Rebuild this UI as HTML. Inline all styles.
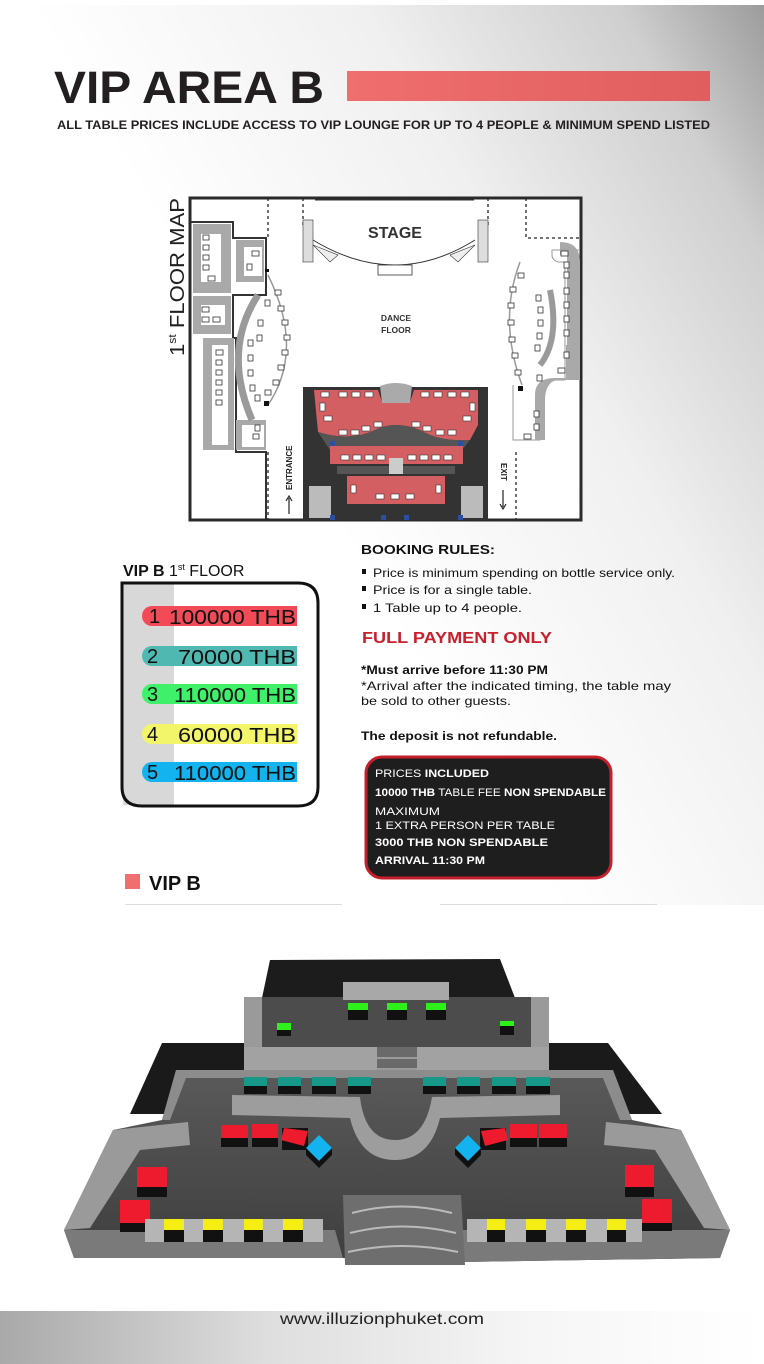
<!DOCTYPE html>
<html><head><meta charset="utf-8">
<style>
html,body{margin:0;padding:0;background:#fff;}
svg{display:block;}
text{font-family:"Liberation Sans",sans-serif;}
</style></head>
<body>
<svg width="764" height="1364" viewBox="0 0 764 1364" xmlns="http://www.w3.org/2000/svg">
<defs>
<linearGradient id="bg" x1="0.35" y1="0.45" x2="1" y2="0">
<stop offset="0" stop-color="#ffffff"/><stop offset="0.45" stop-color="#f0f0f0"/><stop offset="0.8" stop-color="#cfcfcf"/><stop offset="1" stop-color="#9c9c9c"/>
</linearGradient>
<linearGradient id="bar" x1="0" x2="1"><stop offset="0" stop-color="#ef6e6e"/><stop offset="1" stop-color="#e05e5e"/></linearGradient>
<linearGradient id="foot" x1="0" x2="1"><stop offset="0" stop-color="#a9a9a9"/><stop offset="0.35" stop-color="#dedede"/><stop offset="0.7" stop-color="#f6f6f6"/><stop offset="1" stop-color="#ffffff"/></linearGradient>
<linearGradient id="fl" x1="0" y1="0" x2="0" y2="1"><stop offset="0" stop-color="#5a5a5a"/><stop offset="1" stop-color="#3e3e3e"/></linearGradient>
</defs>

<!-- background -->
<rect x="0" y="5" width="764" height="900" fill="url(#bg)"/>
<rect x="0" y="0" width="764" height="5" fill="#fff"/>

<!-- header -->
<text x="54" y="103" font-size="45" font-weight="bold" fill="#231f20" textLength="270" lengthAdjust="spacingAndGlyphs">VIP AREA B</text>
<rect x="347" y="71" width="363" height="30" fill="url(#bar)"/>
<text x="57" y="129" font-size="11.5" font-weight="bold" fill="#231f20" textLength="653" lengthAdjust="spacingAndGlyphs">ALL TABLE PRICES INCLUDE ACCESS TO VIP LOUNGE FOR UP TO 4 PEOPLE &amp; MINIMUM SPEND LISTED</text>

<!-- floor map -->
<text transform="translate(184,356) rotate(-90)" font-size="20" fill="#231f20" textLength="158" lengthAdjust="spacingAndGlyphs">1<tspan font-size="11" dy="-8">st</tspan><tspan dy="8"> FLOOR MAP</tspan></text>
<rect x="190" y="198" width="391" height="322" fill="#fff" stroke="#2a2a2a" stroke-width="3"/>
<!-- right gray wall top -->
<rect x="580" y="198" width="2" height="322" fill="#2a2a2a"/>
<!-- left stepped wall -->
<path d="M191,222 L233,222 L233,238 L266,238 L266,295 L233,295 L233,338 L236,338 L236,452 L266,452 L266,519" fill="none" stroke="#333" stroke-width="2"/>
<path d="M193,224 L231,224 L231,293 L193,293 Z" fill="#a9a9a9"/>
<path d="M201,234 L221,234 L221,282 L201,282 Z" fill="#fff"/>
<path d="M193,296 L231,296 L231,334 L193,334 Z" fill="#a9a9a9"/>
<path d="M201,305 L225,305 L225,325 L201,325 Z" fill="#fff"/>
<path d="M203,338 L234,338 L234,450 L203,450 Z" fill="#a9a9a9"/>
<path d="M212,345 L228,345 L228,445 L212,445 Z" fill="#fff"/>
<path d="M236,240 L264,240 L264,282 L236,282 Z" fill="#a9a9a9"/>
<path d="M244,247 L262,247 L262,276 L244,276 Z" fill="#fff"/>
<path d="M236,420 L266,420 L266,450 L236,450 Z" fill="#a9a9a9"/>
<path d="M242,425 L264,425 L264,447 L242,447 Z" fill="#fff"/>
<!-- left arc -->
<path d="M258,295 Q222,350 252,420" fill="none" stroke="#9a9a9a" stroke-width="7"/>
<path d="M268,275 Q305,350 268,405" fill="none" stroke="#999" stroke-width="1.5"/>
<g fill="#fff" stroke="#333" stroke-width="0.8">
<rect x="203" y="235" width="6" height="5"/><rect x="203" y="245" width="6" height="5"/><rect x="203" y="255" width="6" height="5"/><rect x="203" y="265" width="6" height="5"/><rect x="208" y="276" width="7" height="5"/>
<rect x="202" y="307" width="7" height="5"/><rect x="202" y="317" width="7" height="5"/><rect x="213" y="317" width="7" height="5"/>
<rect x="216" y="350" width="7" height="5"/><rect x="216" y="360" width="6" height="5"/><rect x="216" y="370" width="6" height="5"/><rect x="216" y="380" width="6" height="5"/><rect x="216" y="390" width="6" height="5"/><rect x="216" y="400" width="6" height="5"/>
<rect x="252" y="251" width="7" height="5"/><rect x="247" y="264" width="5" height="6"/>
<rect x="255" y="425" width="5" height="6"/><rect x="253" y="434" width="6" height="5"/>
<rect x="258" y="320" width="5" height="6"/><rect x="257" y="335" width="5" height="6"/><rect x="248" y="340" width="5" height="6"/><rect x="248" y="355" width="5" height="6"/><rect x="248" y="370" width="5" height="6"/><rect x="250" y="385" width="5" height="6"/><rect x="255" y="395" width="5" height="6"/><rect x="265" y="300" width="5" height="6"/><rect x="275" y="290" width="6" height="5"/><rect x="278" y="306" width="6" height="5"/><rect x="282" y="320" width="6" height="5"/><rect x="284" y="335" width="6" height="5"/><rect x="282" y="350" width="6" height="5"/><rect x="278" y="365" width="6" height="5"/><rect x="273" y="380" width="6" height="5"/><rect x="265" y="390" width="6" height="5"/>
</g>
<!-- right side -->
<path d="M580,250 L552,250 L552,255 Q552,260 558,262 L565,262 L565,380 L555,380 Q540,385 540,400 L540,440 L513,440 L513,385" fill="none" stroke="#999" stroke-width="1"/>
<path d="M560,242 Q580,242 580,262 L580,345 L567,345 L567,255 L560,255 Z" fill="#a9a9a9"/>
<path d="M566,345 L580,345 L580,380 L555,380 Q545,385 545,400 L545,440 L535,440 L535,395 Q535,378 555,378 L566,378 Z" fill="#a9a9a9"/>
<path d="M550,290 Q560,340 540,365" fill="none" stroke="#9a9a9a" stroke-width="6"/>
<path d="M520,262 Q498,320 522,385" fill="none" stroke="#999" stroke-width="1.5"/>
<g fill="#fff" stroke="#333" stroke-width="0.8">
<rect x="561" y="251" width="7" height="5"/><rect x="564" y="262" width="5" height="6"/><rect x="564" y="272" width="5" height="6"/><rect x="564" y="288" width="5" height="6"/><rect x="564" y="302" width="5" height="6"/><rect x="564" y="316" width="5" height="6"/><rect x="564" y="330" width="5" height="6"/><rect x="564" y="352" width="5" height="6"/><rect x="558" y="368" width="7" height="5"/>
<rect x="536" y="295" width="5" height="6"/><rect x="538" y="307" width="5" height="6"/><rect x="538" y="320" width="5" height="6"/><rect x="537" y="333" width="5" height="6"/><rect x="535" y="345" width="5" height="6"/><rect x="537" y="375" width="5" height="6"/>
<rect x="518" y="273" width="6" height="5"/><rect x="510" y="287" width="6" height="5"/><rect x="508" y="303" width="6" height="5"/><rect x="508" y="320" width="6" height="5"/><rect x="509" y="337" width="6" height="5"/><rect x="512" y="353" width="6" height="5"/><rect x="515" y="370" width="6" height="5"/>
<rect x="534" y="411" width="5" height="6"/><rect x="534" y="424" width="5" height="6"/><rect x="524" y="434" width="7" height="5"/>
</g>
<rect x="518" y="386" width="5" height="5" fill="#111"/><rect x="264" y="401" width="5" height="5" fill="#111"/><rect x="265" y="269" width="4" height="3" fill="#111"/>
<!-- dashed lines -->
<g stroke="#222" stroke-width="1.3" stroke-dasharray="3,3" fill="none">
<path d="M268,198 L268,238"/><path d="M268,452 L268,519"/>
<path d="M303,198 L303,225"/><path d="M488,198 L488,225"/>
<path d="M526,198 L526,238 L580,238"/><path d="M516,452 L516,519"/>
</g>
<!-- stage -->
<path d="M315,200 L474,200" stroke="#333" stroke-width="1"/>
<path d="M313,240 Q395,290 475,240" fill="none" stroke="#333" stroke-width="1"/>
<rect x="378" y="265" width="34" height="10" fill="#fff" stroke="#333" stroke-width="0.8"/>
<g fill="#ddd" stroke="#333" stroke-width="0.6"><rect x="303" y="220" width="10" height="42"/><rect x="478" y="220" width="10" height="42"/></g>
<path d="M313,245 L338,255 L330,262 Z M475,245 L450,255 L458,262 Z" fill="#eee" stroke="#333" stroke-width="0.6"/>
<text x="395" y="238" font-size="16" font-weight="bold" fill="#333" text-anchor="middle">STAGE</text>
<text x="396" y="321" font-size="8.5" font-weight="bold" fill="#333" text-anchor="middle">DANCE</text>
<text x="396" y="333" font-size="8.5" font-weight="bold" fill="#333" text-anchor="middle">FLOOR</text>
<!-- VIP block -->
<rect x="303" y="387" width="185" height="133" fill="#333"/>
<path d="M314,390 L378,390 L382,402 L410,402 L414,390 L478,390 L478,425 L470,440 Q440,442 420,430 Q395,420 375,430 Q350,442 318,432 Z" fill="#d45f62"/>
<path d="M380,386 Q396,380 412,386 L410,403 L382,403 Z" fill="#aaa"/>
<path d="M318,432 Q350,442 375,430 Q395,420 420,430 Q440,442 470,440 L462,450 L330,450 Z" fill="#555"/>
<rect x="330" y="446" width="133" height="18" fill="#d45f62"/>
<rect x="337" y="466" width="118" height="8" fill="#555"/>
<rect x="347" y="476" width="98" height="28" fill="#d45f62"/>
<rect x="309" y="486" width="22" height="32" fill="#bbb"/><rect x="461" y="486" width="22" height="32" fill="#bbb"/>
<rect x="389" y="458" width="14" height="16" fill="#ccc"/>
<g fill="#fff" stroke="#333" stroke-width="0.6">
<rect x="321" y="392" width="8" height="5"/><rect x="339" y="392" width="8" height="5"/><rect x="352" y="392" width="8" height="5"/><rect x="365" y="392" width="8" height="5"/>
<rect x="421" y="392" width="8" height="5"/><rect x="434" y="392" width="8" height="5"/><rect x="448" y="392" width="8" height="5"/><rect x="461" y="392" width="8" height="5"/>
<rect x="320" y="403" width="5" height="8"/><rect x="470" y="403" width="5" height="8"/>
<rect x="324" y="416" width="8" height="5"/><rect x="463" y="416" width="8" height="5"/>
<rect x="339" y="430" width="8" height="5"/><rect x="351" y="430" width="8" height="5"/><rect x="362" y="426" width="8" height="5"/><rect x="374" y="422" width="8" height="5"/>
<rect x="412" y="422" width="8" height="5"/><rect x="423" y="426" width="8" height="5"/><rect x="436" y="430" width="8" height="5"/><rect x="448" y="430" width="8" height="5"/>
<rect x="341" y="455" width="8" height="5"/><rect x="353" y="455" width="8" height="5"/><rect x="365" y="455" width="8" height="5"/><rect x="377" y="455" width="8" height="5"/>
<rect x="408" y="455" width="8" height="5"/><rect x="420" y="455" width="8" height="5"/><rect x="432" y="455" width="8" height="5"/><rect x="444" y="455" width="8" height="5"/>
<rect x="351" y="485" width="5" height="8"/><rect x="436" y="485" width="5" height="8"/>
<rect x="376" y="494" width="8" height="5"/><rect x="391" y="494" width="8" height="5"/><rect x="406" y="494" width="8" height="5"/>
</g>
<g fill="#2b4fa3"><rect x="330" y="441" width="5" height="5"/><rect x="458" y="441" width="5" height="5"/><rect x="330" y="515" width="5" height="5"/><rect x="381" y="515" width="5" height="5"/><rect x="404" y="515" width="5" height="5"/><rect x="458" y="515" width="5" height="5"/></g>
<text transform="translate(292,490) rotate(-90)" font-size="8" font-weight="bold" fill="#222">ENTRANCE</text>
<path d="M289,498 L289,514 M286,501 L289,496 L292,501" stroke="#222" stroke-width="1.2" fill="none"/>
<text transform="translate(501,463) rotate(90)" font-size="8" font-weight="bold" fill="#222">EXIT</text>
<path d="M503,490 L503,507 M500,504 L503,509 L506,504" stroke="#222" stroke-width="1.2" fill="none"/>

<!-- price list -->
<text x="123" y="576" font-size="16" fill="#111"><tspan font-weight="bold">VIP B</tspan> 1<tspan font-size="9" dy="-6">st</tspan><tspan dy="6"> FLOOR</tspan></text>
<path d="M122,583 L298,583 Q318,583 318,603 L318,787 Q318,806 298,806 L142,806 Q122,806 122,787 Z" fill="#fff"/>
<rect x="123" y="584" width="51" height="221" fill="#d8d8d8"/>
<path d="M122,583 L298,583 Q318,583 318,603 L318,787 Q318,806 298,806 L142,806 Q122,806 122,787 Z" fill="none" stroke="#111" stroke-width="3"/>
<g font-size="20" fill="#111">
<path d="M152,606 L297,606 L297,626 L152,626 A10,10 0 0 1 152,606 Z" fill="#f24b57"/>
<text x="149" y="623">1</text><text x="169" y="624" textLength="127" lengthAdjust="spacingAndGlyphs">100000 THB</text>
<path d="M152,646 L297,646 L297,666 L152,666 A10,10 0 0 1 152,646 Z" fill="#4fb8b1"/>
<text x="147" y="663">2</text><text x="178" y="664" textLength="118" lengthAdjust="spacingAndGlyphs">70000 THB</text>
<path d="M152,684 L297,684 L297,704 L152,704 A10,10 0 0 1 152,684 Z" fill="#3ef06a"/>
<text x="147" y="701">3</text><text x="174" y="702" textLength="122" lengthAdjust="spacingAndGlyphs">110000 THB</text>
<path d="M152,724 L297,724 L297,744 L152,744 A10,10 0 0 1 152,724 Z" fill="#f2f56a"/>
<text x="147" y="741">4</text><text x="178" y="742" textLength="118" lengthAdjust="spacingAndGlyphs">60000 THB</text>
<path d="M152,762 L297,762 L297,782 L152,782 A10,10 0 0 1 152,762 Z" fill="#12b3ef"/>
<text x="147" y="779">5</text><text x="174" y="780" textLength="122" lengthAdjust="spacingAndGlyphs">110000 THB</text>
</g>

<!-- booking rules -->
<text x="361" y="554" font-size="13" font-weight="bold" fill="#111" textLength="134" lengthAdjust="spacingAndGlyphs">BOOKING RULES:</text>
<g font-size="12" fill="#111">
<rect x="362" y="569" width="4" height="5"/><text x="373" y="577" textLength="302" lengthAdjust="spacingAndGlyphs">Price is minimum spending on bottle service only.</text>
<rect x="362" y="586" width="4" height="5"/><text x="373" y="594" textLength="159" lengthAdjust="spacingAndGlyphs">Price is  for a single table.</text>
<rect x="362" y="604" width="4" height="5"/><text x="373" y="612" textLength="149" lengthAdjust="spacingAndGlyphs">1 Table up to 4 people.</text>
</g>
<text x="362" y="643" font-size="16" font-weight="bold" fill="#c8202c" textLength="190" lengthAdjust="spacingAndGlyphs">FULL PAYMENT ONLY</text>
<text x="361" y="674" font-size="12" font-weight="bold" fill="#111" textLength="187" lengthAdjust="spacingAndGlyphs">*Must arrive before 11:30 PM</text>
<text x="361" y="690" font-size="12" fill="#111" textLength="310" lengthAdjust="spacingAndGlyphs">*Arrival after the indicated timing, the table may</text>
<text x="361" y="705" font-size="12" fill="#111" textLength="150" lengthAdjust="spacingAndGlyphs">be sold to other guests.</text>
<text x="361" y="740" font-size="12" font-weight="bold" fill="#111" textLength="196" lengthAdjust="spacingAndGlyphs">The deposit is not refundable.</text>
<rect x="366" y="757" width="245" height="121" rx="16" fill="#1e1e1e" stroke="#c41f2a" stroke-width="3"/>
<g font-size="11" fill="#fff" font-weight="bold">
<text x="375" y="777" textLength="114" lengthAdjust="spacingAndGlyphs"><tspan font-weight="normal">PRICES </tspan>INCLUDED</text>
<text x="375" y="796" textLength="231" lengthAdjust="spacingAndGlyphs">10000 THB<tspan font-weight="normal"> TABLE FEE </tspan>NON SPENDABLE</text>
<text x="375" y="815" font-weight="normal" textLength="65" lengthAdjust="spacingAndGlyphs">MAXIMUM</text>
<text x="375" y="829" font-weight="normal" textLength="180" lengthAdjust="spacingAndGlyphs">1 EXTRA PERSON PER TABLE</text>
<text x="375" y="846" textLength="173" lengthAdjust="spacingAndGlyphs">3000 THB NON SPENDABLE</text>
<text x="375" y="864" textLength="110" lengthAdjust="spacingAndGlyphs">ARRIVAL 11:30 PM</text>
</g>
<rect x="125" y="874" width="15" height="15" fill="#ef6f6f"/>
<text x="149" y="890" font-size="20" font-weight="bold" fill="#111">VIP B</text>
<rect x="125" y="904" width="217" height="1" fill="#ddd"/><rect x="440" y="904" width="217" height="1" fill="#ddd"/>

<!-- 3D render -->
<path d="M270,960 L500,959 L515,998 L262,998 Z" fill="#1c1c1c"/>
<path d="M162,1043 L245,1043 L245,1114 L130,1114 Z" fill="#1a1a1a"/>
<path d="M549,1043 L608,1043 L662,1114 L549,1114 Z" fill="#1a1a1a"/>
<path d="M244,997 L549,997 L549,1047 L244,1047 Z" fill="#4c4c4c"/>
<path d="M244,997 L262,997 L262,1047 L244,1047 Z M531,997 L549,997 L549,1047 L531,1047 Z" fill="#9a9a9a"/>
<rect x="343" y="982" width="106" height="18" fill="#a8a8a8"/>
<rect x="244" y="1047" width="305" height="30" fill="#a2a2a2"/>
<rect x="377" y="1047" width="40" height="46" fill="#6a6a6a"/>
<g stroke="#9a9a9a" stroke-width="2"><path d="M377,1058 L417,1058 M377,1069 L417,1069 M377,1080 L417,1080"/></g>
<path d="M176,1070 L613,1070 L632,1120 L681,1130 L730,1230 L720,1258 L461,1262 L343,1258 L74,1258 L64,1230 L113,1130 L162,1120 Z" fill="url(#fl)"/>
<path d="M176,1070 L613,1070 L632,1120 L620,1120 L603,1078 L186,1078 L170,1120 L162,1120 Z" fill="#8c8c8c"/>
<path d="M113,1130 L188,1122 L190,1145 L140,1150 L90,1228 L64,1230 Z" fill="#9a9a9a"/>
<path d="M681,1130 L606,1122 L604,1145 L655,1150 L704,1228 L730,1230 Z" fill="#9a9a9a"/>
<path d="M64,1230 L335,1230 L343,1258 L74,1258 Z" fill="#7a7a7a"/>
<path d="M461,1230 L730,1230 L720,1258 L461,1262 Z" fill="#7a7a7a"/>
<path d="M232,1095 L360,1097 Q365,1140 395,1140 Q425,1140 432,1097 L560,1095 L560,1115 L440,1118 Q430,1160 395,1160 Q360,1160 350,1118 L232,1115 Z" fill="#9d9d9d"/>
<path d="M343,1195 L461,1195 L465,1265 L345,1265 Z" fill="#6e6e6e"/>
<g stroke="#bbb" stroke-width="2" fill="none"><path d="M352,1213 Q402,1200 452,1213"/><path d="M350,1233 Q402,1220 456,1233"/><path d="M348,1252 Q402,1240 458,1252"/></g>
<!-- tables -->
<g fill="#111">
<rect x="348" y="1003" width="20" height="17"/><rect x="387" y="1003" width="20" height="17"/><rect x="426" y="1003" width="20" height="17"/>
<rect x="277" y="1023" width="14" height="13"/><rect x="500" y="1021" width="14" height="14"/>
</g>
<g fill="#2ef01a"><rect x="348" y="1003" width="20" height="7"/><rect x="387" y="1003" width="20" height="7"/><rect x="426" y="1003" width="20" height="7"/><rect x="277" y="1023" width="14" height="7"/><rect x="500" y="1021" width="14" height="5"/></g>
<g fill="#111"><rect x="244" y="1077" width="23" height="17"/><rect x="278" y="1077" width="23" height="17"/><rect x="312" y="1077" width="24" height="17"/><rect x="348" y="1077" width="23" height="17"/><rect x="423" y="1077" width="23" height="17"/><rect x="457" y="1077" width="23" height="17"/><rect x="492" y="1077" width="24" height="17"/><rect x="526" y="1077" width="24" height="17"/></g>
<g fill="#17998a"><rect x="244" y="1077" width="23" height="9"/><rect x="278" y="1077" width="23" height="9"/><rect x="312" y="1077" width="24" height="9"/><rect x="348" y="1077" width="23" height="9"/><rect x="423" y="1077" width="23" height="9"/><rect x="457" y="1077" width="23" height="9"/><rect x="492" y="1077" width="24" height="9"/><rect x="526" y="1077" width="24" height="9"/></g>
<g fill="#111"><rect x="221" y="1125" width="27" height="22"/><rect x="252" y="1124" width="26" height="23"/><rect x="282" y="1128" width="26" height="22"/><rect x="539" y="1124" width="28" height="23"/><rect x="510" y="1124" width="27" height="23"/><rect x="480" y="1128" width="26" height="22"/>
<rect x="137" y="1167" width="30" height="30"/><rect x="120" y="1200" width="30" height="32"/><rect x="625" y="1165" width="29" height="32"/><rect x="642" y="1199" width="30" height="32"/></g>
<g fill="#ee1b2e"><rect x="221" y="1125" width="27" height="13"/><rect x="252" y="1124" width="26" height="14"/><path d="M284,1128 L308,1131 L304,1146 L281,1140 Z"/><rect x="539" y="1124" width="28" height="14"/><rect x="510" y="1124" width="27" height="14"/><path d="M481,1131 L505,1128 L508,1140 L485,1146 Z"/>
<rect x="137" y="1167" width="30" height="20"/><rect x="120" y="1200" width="30" height="23"/><rect x="625" y="1165" width="29" height="22"/><rect x="642" y="1199" width="30" height="24"/></g>
<path d="M319,1135 L332,1148 L319,1161 L306,1148 Z" fill="#12b3ef"/><path d="M306,1148 L319,1161 L332,1148 L332,1155 L319,1168 L306,1155 Z" fill="#111"/>
<path d="M468,1135 L481,1148 L468,1161 L455,1148 Z" fill="#12b3ef"/><path d="M455,1148 L468,1161 L481,1148 L481,1155 L468,1168 L455,1155 Z" fill="#111"/>
<g fill="#b5b5b5"><rect x="145" y="1219" width="178" height="23"/><rect x="467" y="1219" width="175" height="23"/></g>
<g fill="#111"><rect x="164" y="1219" width="20" height="23"/><rect x="203" y="1219" width="20" height="23"/><rect x="244" y="1219" width="19" height="23"/><rect x="283" y="1219" width="20" height="23"/><rect x="487" y="1219" width="18" height="23"/><rect x="526" y="1219" width="20" height="23"/><rect x="566" y="1219" width="20" height="23"/><rect x="607" y="1219" width="19" height="23"/></g>
<g fill="#f4ee14"><rect x="164" y="1219" width="20" height="11"/><rect x="203" y="1219" width="20" height="11"/><rect x="244" y="1219" width="19" height="11"/><rect x="283" y="1219" width="20" height="11"/><rect x="487" y="1219" width="18" height="11"/><rect x="526" y="1219" width="20" height="11"/><rect x="566" y="1219" width="20" height="11"/><rect x="607" y="1219" width="19" height="11"/></g>

<!-- footer -->
<rect x="0" y="1311" width="764" height="53" fill="url(#foot)"/>
<text x="382" y="1324" font-size="16" fill="#222" text-anchor="middle" textLength="204" lengthAdjust="spacingAndGlyphs">www.illuzionphuket.com</text>
</svg>
</body></html>
